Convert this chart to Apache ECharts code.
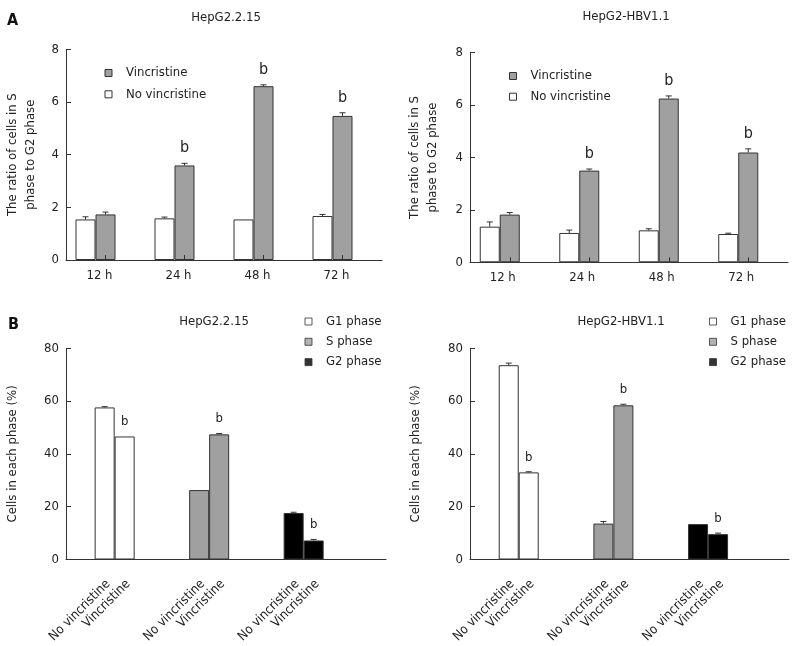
<!DOCTYPE html>
<html><head><meta charset="utf-8">
<script src="https://cdn.jsdelivr.net/npm/echarts@6/dist/echarts.min.js"></script>
<style>html,body{margin:0;padding:0;background:#fff}#c{width:800px;height:646px}</style>
</head><body><div id="c"></div>
<script>
// ---------- data ----------
const timeCats = ['12 h', '24 h', '48 h', '72 h'];
const armNames = ['No vincristine', 'Vincristine'];
const phaseCats = ['G1 phase', 'S phase', 'G2 phase'];

// Panel A: ratio of cells in S phase to G2 phase
const a215NoVin = [1.54, 1.58, 1.54, 1.67];
const a215NoVinErr = [0.10, 0.05, 0.00, 0.06];
const a215Vin = [1.73, 3.59, 6.60, 5.47];
const a215VinErr = [0.09, 0.08, 0.05, 0.12];
const a215Sig = ['', 'b', 'b', 'b'];

const aHbvNoVin = [1.36, 1.12, 1.22, 1.08];
const aHbvNoVinErr = [0.18, 0.11, 0.06, 0.03];
const aHbvVin = [1.82, 3.50, 6.25, 4.19];
const aHbvVinErr = [0.08, 0.06, 0.10, 0.14];
const aHbvSig = ['', 'b', 'b', 'b'];

// Panel B: cells in each phase (%)
const b215NoVin = [57.6, 26.3, 17.6];
const b215NoVinErr = [0.3, 0.0, 0.3];
const b215Vin = [46.6, 47.4, 7.2];
const b215VinErr = [0.0, 0.3, 0.4];
const b215Sig = ['b', 'b', 'b'];

const bHbvNoVin = [73.6, 13.6, 13.4];
const bHbvNoVinErr = [0.8, 0.8, 0.0];
const bHbvVin = [33.0, 58.4, 9.6];
const bHbvVinErr = [0.25, 0.4, 0.4];
const bHbvSig = ['b', 'b', 'b'];

const yTicksA = [0, 8, 2];   // min, max, interval
const yTicksB = [0, 80, 20];

// ---------- styling ----------
const FONT = '"DejaVu Sans Condensed", "DejaVu Sans", sans-serif';
const LINE = '#333';
const TXT = '#222';
const GREY = '#a0a0a0';
const phaseColors = ['#ffffff', GREY, '#000000'];
const BAR_W = 20;

const chart = echarts.init(document.getElementById('c'), null, {renderer: 'canvas'});

function errSeries(xi, yi, vals, errs, sig, slot, nSlots, fontSize, gap) {
  return {
    type: 'custom', name: '_err' + xi + '_' + slot, xAxisIndex: xi, yAxisIndex: yi, z: 5, silent: true,
    data: vals.map((v, i) => [i, v, errs[i]]),
    encode: {x: 0, y: 1},
    renderItem: function (params, api) {
      const i = api.value(0), v = api.value(1), e = api.value(2);
      const base = api.coord([i, v]);
      const top = api.coord([i, v + e]);
      const x = base[0] + (slot - (nSlots - 1) / 2) * BAR_W;
      const ch = [];
      if (e > 0) {
        ch.push({type: 'line', shape: {x1: x, y1: base[1], x2: x, y2: top[1]}, style: {stroke: LINE, lineWidth: 1}});
        ch.push({type: 'line', shape: {x1: x - 3, y1: top[1], x2: x + 3, y2: top[1]}, style: {stroke: LINE, lineWidth: 1}});
      }
      const s = sig && sig[params.dataIndex];
      if (s) {
        ch.push({type: 'text', x: x, y: top[1] - gap,
          style: {text: s, fontSize: fontSize, fontFamily: FONT, fill: TXT, align: 'center', verticalAlign: 'bottom'}});
      }
      return {type: 'group', children: ch};
    }
  };
}

function yAxisCfg(gi, ticks, name, nameGap, show) {
  return {
    type: 'value', gridIndex: gi, min: ticks[0], max: ticks[1], interval: ticks[2],
    show: show,
    name: name, nameLocation: 'middle', nameGap: nameGap,
    nameTextStyle: {fontSize: 13, fontFamily: FONT, color: TXT, lineHeight: 18},
    axisLine: {show: true, lineStyle: {color: LINE, width: 1}},
    axisTick: {show: true, inside: true, length: 5, lineStyle: {color: LINE}},
    axisLabel: {fontSize: 13, fontFamily: FONT, color: TXT, margin: 7},
    splitLine: {show: false}
  };
}

function catAxisA(gi, shift) {
  return {
    type: 'category', gridIndex: gi, data: timeCats, z: 3,
    axisLine: {lineStyle: {color: LINE, width: 1}},
    axisTick: {show: true, inside: true, alignWithLabel: true, length: 5, lineStyle: {color: LINE}},
    axisLabel: {fontSize: 13, fontFamily: FONT, color: TXT, margin: 9, padding: [0, shift, 0, 0]}
  };
}

function frameX(gi) {
  return {type: 'value', gridIndex: gi, min: 0, max: 1,
    axisLine: {show: true, lineStyle: {color: LINE, width: 1}},
    axisTick: {show: false}, axisLabel: {show: false}, splitLine: {show: false}};
}
function hiddenCat(gi) {
  return {type: 'category', gridIndex: gi, data: phaseCats, show: false};
}

function barA(name, xi, data, color) {
  return {type: 'bar', name: name, xAxisIndex: xi, yAxisIndex: xi, data: data,
    barWidth: BAR_W, barGap: '0%', silent: true,
    itemStyle: {color: color, borderColor: LINE, borderWidth: 1}};
}
function padA(xi) {
  return {type: 'bar', name: '_pad' + xi, xAxisIndex: xi, yAxisIndex: xi, data: timeCats.map(() => '-'),
    barWidth: BAR_W, barGap: '0%', silent: true};
}
function barB(k, xi, vals) {
  return {type: 'bar', name: '_B' + xi + '_' + k, xAxisIndex: xi, yAxisIndex: xi,
    data: vals.map((v, i) => ({value: v, itemStyle: {color: phaseColors[i]}})),
    barWidth: BAR_W, barGap: '0%', silent: true,
    itemStyle: {borderColor: LINE, borderWidth: 1},
    label: {show: true, position: 'bottom', distance: 12, rotate: 45, align: 'right', verticalAlign: 'middle',
      formatter: armNames[k], fontSize: 13, fontFamily: FONT, color: TXT, offset: [-5, 10]}};
}
function legendSeries(name, color) {
  return {type: 'scatter', name: name, xAxisIndex: 2, yAxisIndex: 2, data: [],
    itemStyle: {color: color, borderColor: LINE, borderWidth: 1}};
}

const titleStyle = {fontSize: 13, fontWeight: 'normal', fontFamily: FONT, color: TXT};
const letterStyle = {fontSize: 16, fontWeight: 'bold', fontFamily: FONT, color: '#111'};
const legendText = {fontSize: 13, fontFamily: FONT, color: TXT, padding: [0, 0, 0, 9]};
function legendCfg(names, left, top, gap) {
  return {data: names, orient: 'vertical', left: left, top: top, padding: 0,
    itemWidth: 7, itemHeight: 7, itemGap: gap, icon: 'rect', textStyle: legendText,
    itemStyle: {borderColor: LINE, borderWidth: 1}};
}

const option = {
  animation: false,
  backgroundColor: '#fff',
  title: [
    {text: 'A', left: 7, top: 13, padding: 0, textStyle: letterStyle},
    {text: 'HepG2.2.15', left: 226, top: 11, padding: 0, textAlign: 'center', textStyle: titleStyle},
    {text: 'HepG2-HBV1.1', left: 626, top: 10, padding: 0, textAlign: 'center', textStyle: titleStyle},
    {text: 'B', left: 8, top: 317, padding: 0, textStyle: letterStyle},
    {text: 'HepG2.2.15', left: 214, top: 315, padding: 0, textAlign: 'center', textStyle: titleStyle},
    {text: 'HepG2-HBV1.1', left: 621, top: 315, padding: 0, textAlign: 'center', textStyle: titleStyle}
  ],
  legend: [
    legendCfg(['Vincristine', 'No vincristine'], 104.5, 66.5, 8.3),
    legendCfg(['Vincristine', 'No vincristine'], 509, 69.5, 7.7),
    legendCfg(phaseCats, 304.5, 315, 7.3),
    legendCfg(phaseCats, 709, 315, 7.3)
  ],
  grid: [
    {left: 66, top: 49.3, width: 316, height: 210.7},
    {left: 470, top: 52.7, width: 318, height: 209.6},
    {left: 66, top: 348.3, width: 320, height: 211.2},
    {left: 67.4, top: 348.3, width: 283.5, height: 211.2},
    {left: 470, top: 348.3, width: 319, height: 211.2},
    {left: 471.4, top: 348.3, width: 284, height: 211.2}
  ],
  xAxis: [catAxisA(0, 12), catAxisA(1, 14), frameX(2), hiddenCat(3), frameX(4), hiddenCat(5)],
  yAxis: [
    yAxisCfg(0, yTicksA, 'The ratio of cells in S\nphase to G2 phase', 26, true),
    yAxisCfg(1, yTicksA, 'The ratio of cells in S\nphase to G2 phase', 28, true),
    yAxisCfg(2, yTicksB, 'Cells in each phase (%)', 44, true),
    yAxisCfg(3, yTicksB, '', 0, false),
    yAxisCfg(4, yTicksB, 'Cells in each phase (%)', 45, true),
    yAxisCfg(5, yTicksB, '', 0, false)
  ],
  series: [
    barA('No vincristine', 0, a215NoVin, '#ffffff'),
    barA('Vincristine', 0, a215Vin, GREY),
    padA(0),
    barA('No vincristine', 1, aHbvNoVin, '#ffffff'),
    barA('Vincristine', 1, aHbvVin, GREY),
    padA(1),
    errSeries(0, 0, a215NoVin, a215NoVinErr, null, 0, 3, 16, 7),
    errSeries(0, 0, a215Vin, a215VinErr, a215Sig, 1, 3, 16, 7),
    errSeries(1, 1, aHbvNoVin, aHbvNoVinErr, null, 0, 3, 16, 7),
    errSeries(1, 1, aHbvVin, aHbvVinErr, aHbvSig, 1, 3, 16, 7),
    barB(0, 3, b215NoVin),
    barB(1, 3, b215Vin),
    barB(0, 5, bHbvNoVin),
    barB(1, 5, bHbvVin),
    errSeries(3, 3, b215NoVin, b215NoVinErr, null, 0, 2, 13, 8),
    errSeries(3, 3, b215Vin, b215VinErr, b215Sig, 1, 2, 13, 8),
    errSeries(5, 5, bHbvNoVin, bHbvNoVinErr, null, 0, 2, 13, 8),
    errSeries(5, 5, bHbvVin, bHbvVinErr, bHbvSig, 1, 2, 13, 8),
    legendSeries('G1 phase', '#ffffff'),
    legendSeries('S phase', GREY),
    legendSeries('G2 phase', '#000000')
  ]
};
chart.setOption(option);
</script>
</body></html>
